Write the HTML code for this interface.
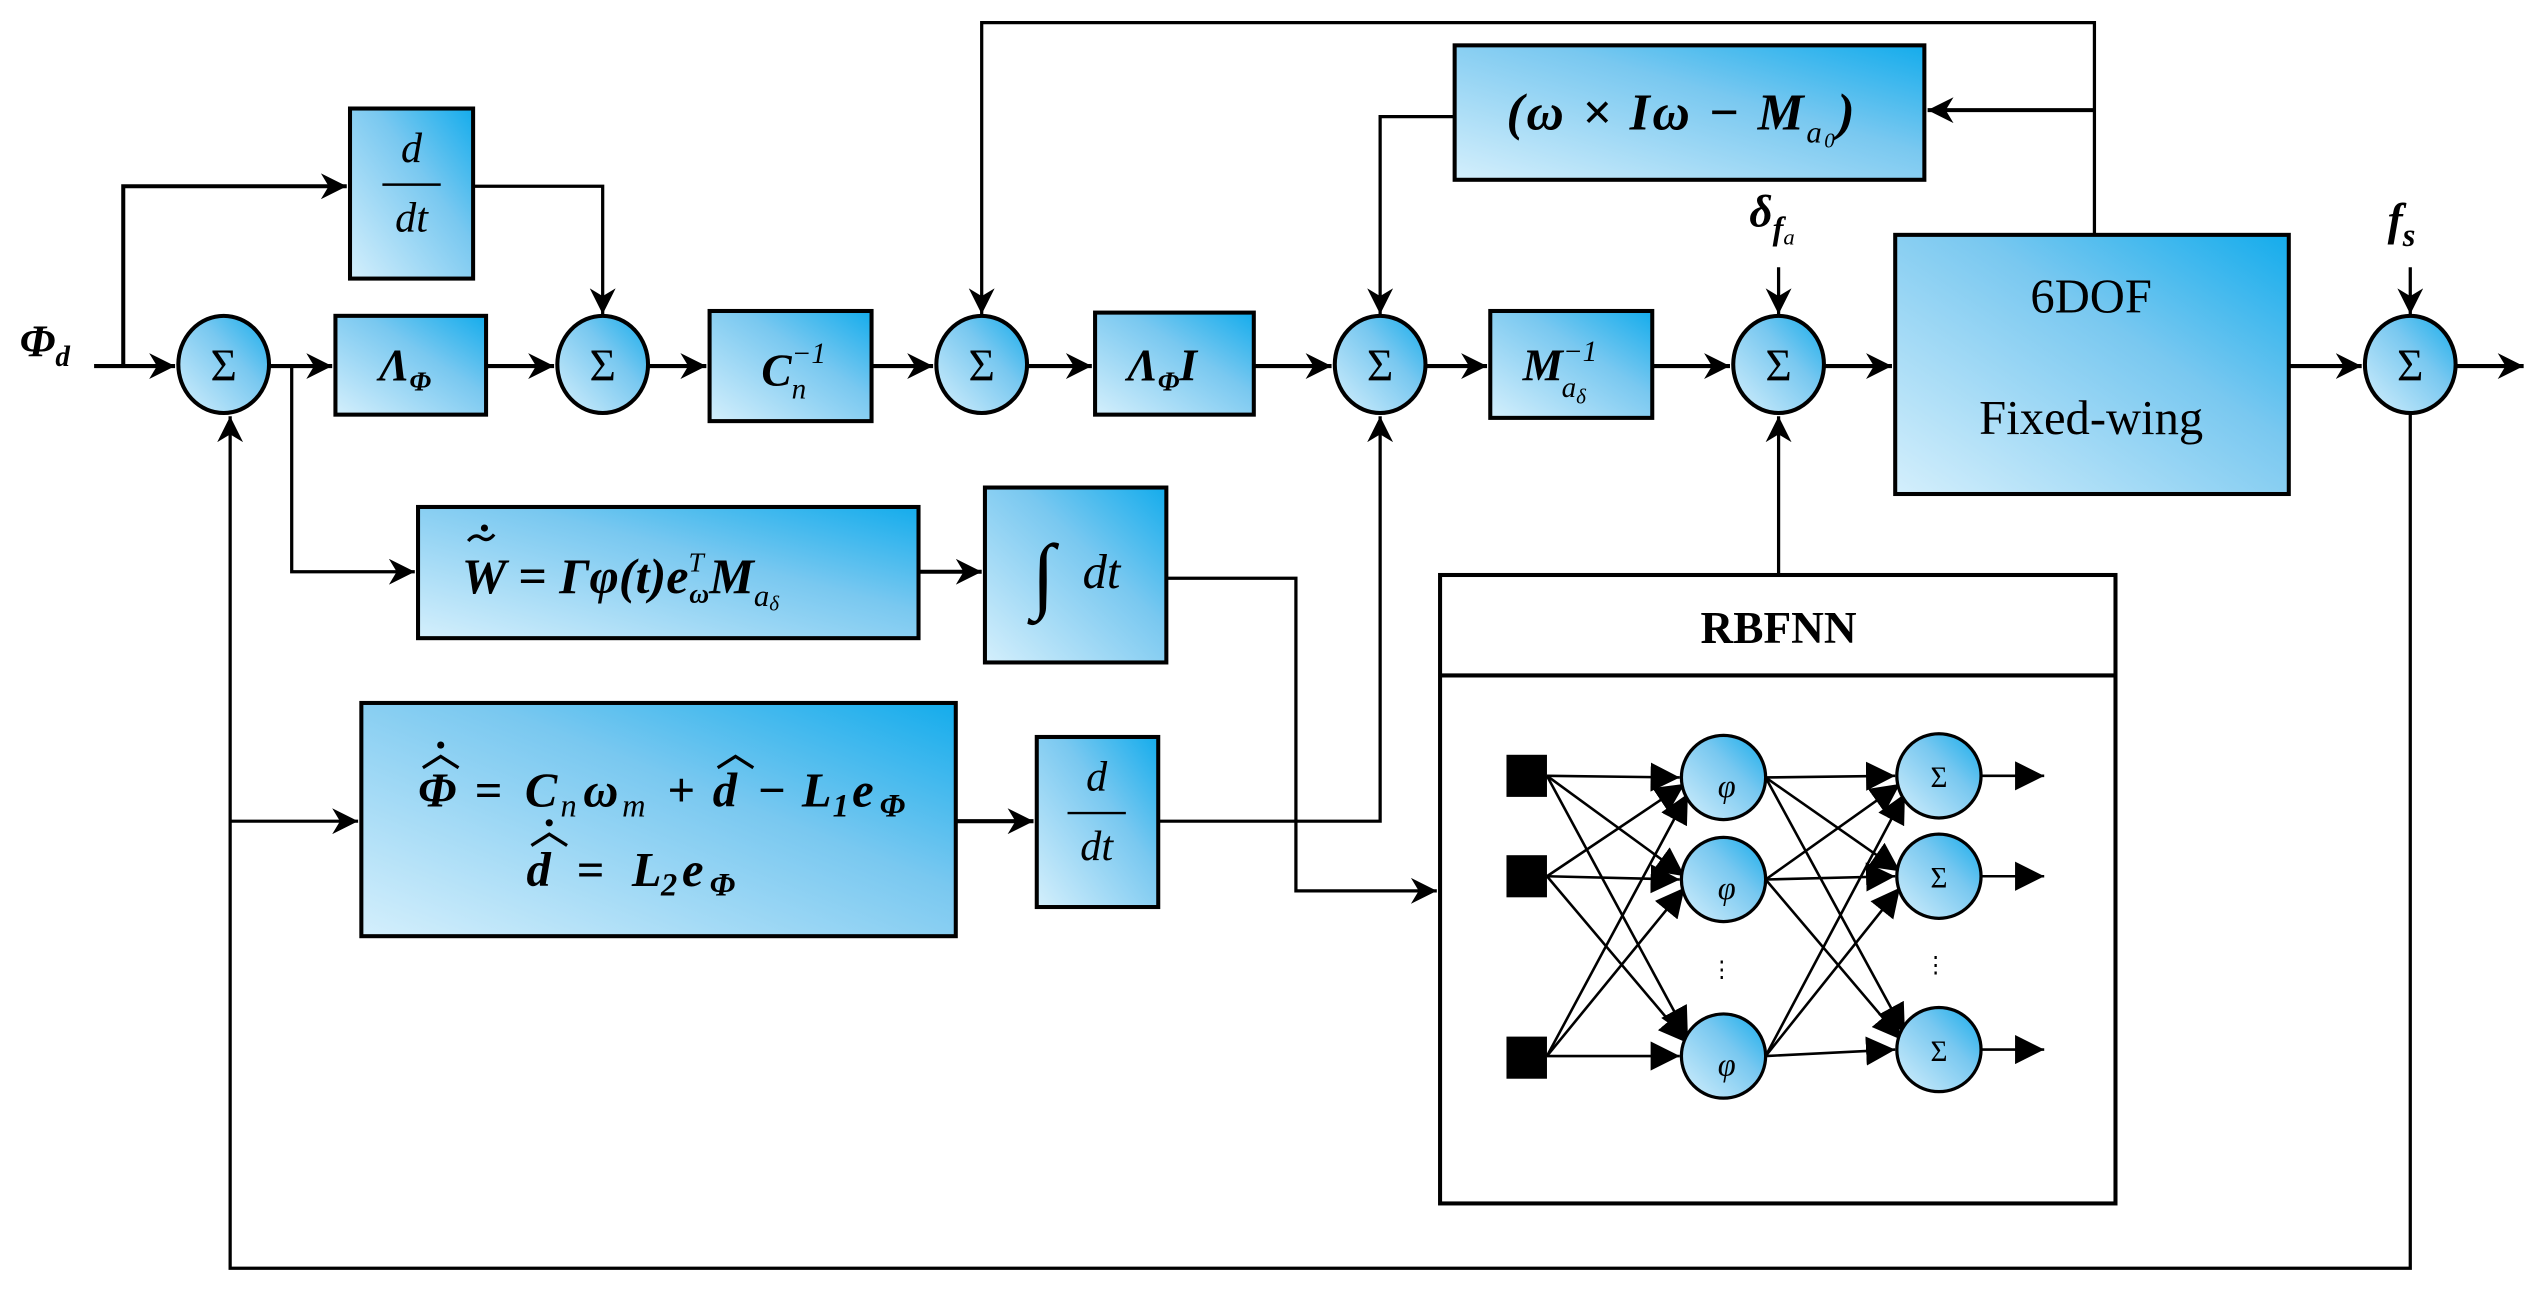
<!DOCTYPE html>
<html><head><meta charset="utf-8"><style>html,body{margin:0;padding:0;background:#fff}svg{display:block}</style></head>
<body>
<svg width="2540" height="1299" viewBox="0 0 1568 802" xmlns="http://www.w3.org/2000/svg" font-family="'Liberation Serif', serif">
<defs>
<linearGradient id="g" x1="0" y1="1" x2="1" y2="0">
<stop offset="0" stop-color="#d4effc"/><stop offset="0.6" stop-color="#79c8f0"/><stop offset="1" stop-color="#14acec"/></linearGradient>
<marker id="b" viewBox="0 0 10 10" refX="10" refY="5" markerWidth="16" markerHeight="16" orient="auto" markerUnits="userSpaceOnUse"><path d="M0,0 L10,5 L0,10 L3,5 z" fill="#000"/></marker>
<marker id="c" viewBox="0 0 10 10" refX="10" refY="5" markerWidth="18" markerHeight="18" orient="auto" markerUnits="userSpaceOnUse"><path d="M0,0 L10,5 L0,10 z" fill="#000"/></marker>
</defs>
<g fill="none" stroke="#000" stroke-width="2.5">
<path d="M58,226 H108" marker-end="url(#b)"/>
<path d="M166,226 H205" marker-end="url(#b)"/>
<path d="M300,226 H342" marker-end="url(#b)"/>
<path d="M400,226 H436" marker-end="url(#b)"/>
<path d="M538,226 H576" marker-end="url(#b)"/>
<path d="M634,226 H674" marker-end="url(#b)"/>
<path d="M774,226 H822" marker-end="url(#b)"/>
<path d="M880,226 H918" marker-end="url(#b)"/>
<path d="M1020,226 H1068" marker-end="url(#b)"/>
<path d="M1126,226 H1168" marker-end="url(#b)"/>
<path d="M1413,226 H1458" marker-end="url(#b)"/>
<path d="M1516,226 H1558" marker-end="url(#b)"/>
<path d="M76,226 V115 H214" marker-end="url(#b)"/>
<path d="M292,115 H372 V194" stroke-width="2" marker-end="url(#b)"/>
<path d="M1293,145 V14 H606 V194" stroke-width="2" marker-end="url(#b)"/>
<path d="M1293,68 H1190" stroke-width="2.5" marker-end="url(#b)"/>
<path d="M898,72 H852 V194" stroke-width="2" marker-end="url(#b)"/>
<path d="M1098,165 V194" stroke-width="2" marker-end="url(#b)"/>
<path d="M1488,165 V194" stroke-width="2" marker-end="url(#b)"/>
<path d="M1488,256 V783 H142 V257" stroke-width="2" marker-end="url(#b)"/>
<path d="M142,507 H221" stroke-width="2" marker-end="url(#b)"/>
<path d="M180,226 V353 H256" stroke-width="2" marker-end="url(#b)"/>
<path d="M567,353 H606" marker-end="url(#b)"/>
<path d="M720,357 H800 V550 H887" stroke-width="2" marker-end="url(#b)"/>
<path d="M590,507 H638" marker-end="url(#b)"/>
<path d="M715,507 H852 V257" stroke-width="2" marker-end="url(#b)"/>
<path d="M1098,355 V257" stroke-width="2" marker-end="url(#b)"/>
</g>
<g fill="url(#g)" stroke="#000" stroke-width="2.5">
<rect x="216" y="67" width="76" height="105"/>
<rect x="207" y="195" width="93" height="61"/>
<rect x="438" y="192" width="100" height="68"/>
<rect x="676" y="193" width="98" height="63"/>
<rect x="898" y="28" width="290" height="83"/>
<rect x="920" y="192" width="100" height="66"/>
<rect x="1170" y="145" width="243" height="160"/>
<rect x="258" y="313" width="309" height="81"/>
<rect x="608" y="301" width="112" height="108"/>
<rect x="223" y="434" width="367" height="144"/>
<rect x="640" y="455" width="75" height="105"/>
<ellipse cx="138" cy="225" rx="28" ry="30"/>
<ellipse cx="372" cy="225" rx="28" ry="30"/>
<ellipse cx="606" cy="225" rx="28" ry="30"/>
<ellipse cx="852" cy="225" rx="28" ry="30"/>
<ellipse cx="1098" cy="225" rx="28" ry="30"/>
<ellipse cx="1488" cy="225" rx="28" ry="30"/>
</g>
<rect x="889" y="355" width="417" height="388" fill="#fff" stroke="#000" stroke-width="2.5"/>
<line x1="889" y1="417" x2="1306" y2="417" stroke="#000" stroke-width="2.5"/>
<g stroke="#000" stroke-width="1.6" fill="none">
<path d="M955,479 L1037,480" marker-end="url(#c)"/>
<path d="M955,479 L1040,541" marker-end="url(#c)"/>
<path d="M955,479 L1042,640" marker-end="url(#c)"/>
<path d="M955,541 L1040,484" marker-end="url(#c)"/>
<path d="M955,541 L1037,543" marker-end="url(#c)"/>
<path d="M955,541 L1042,644" marker-end="url(#c)"/>
<path d="M955,652 L1042,490" marker-end="url(#c)"/>
<path d="M955,652 L1040,548" marker-end="url(#c)"/>
<path d="M955,652 L1037,652" marker-end="url(#c)"/>
<path d="M1090,480 L1170,479" marker-end="url(#c)"/>
<path d="M1090,480 L1173,538" marker-end="url(#c)"/>
<path d="M1090,480 L1176,638" marker-end="url(#c)"/>
<path d="M1090,543 L1173,484" marker-end="url(#c)"/>
<path d="M1090,543 L1170,541" marker-end="url(#c)"/>
<path d="M1090,543 L1174,642" marker-end="url(#c)"/>
<path d="M1090,652 L1176,490" marker-end="url(#c)"/>
<path d="M1090,652 L1173,548" marker-end="url(#c)"/>
<path d="M1090,652 L1170,648" marker-end="url(#c)"/>
<path d="M1223,479 H1262" marker-end="url(#c)"/>
<path d="M1223,541 H1262" marker-end="url(#c)"/>
<path d="M1223,648 H1262" marker-end="url(#c)"/>
</g>
<g fill="#000"><rect x="930" y="466" width="25" height="26"/><rect x="930" y="528" width="25" height="26"/><rect x="930" y="640" width="25" height="26"/></g>
<g fill="url(#g)" stroke="#000" stroke-width="2">
<circle cx="1064" cy="480" r="26"/><circle cx="1064" cy="543" r="26"/><circle cx="1064" cy="652" r="26"/>
<circle cx="1197" cy="479" r="26"/><circle cx="1197" cy="541" r="26"/><circle cx="1197" cy="648" r="26"/>
</g>
<g font-size="20" font-style="italic" text-anchor="middle">
<text x="1066" y="492">φ</text><text x="1066" y="555">φ</text><text x="1066" y="664">φ</text>
</g>
<g font-size="18" text-anchor="middle">
<text x="1197" y="486">Σ</text><text x="1197" y="548">Σ</text><text x="1197" y="655">Σ</text>
<text x="1063" y="603" font-size="14">⋮</text><text x="1195" y="600" font-size="14">⋮</text>
</g>
<text x="1098" y="397" font-size="28" font-weight="bold" text-anchor="middle">RBFNN</text>
<g font-size="28" text-anchor="middle">
<text x="138" y="235">Σ</text><text x="372" y="235">Σ</text><text x="606" y="235">Σ</text>
<text x="852" y="235">Σ</text><text x="1098" y="235">Σ</text><text x="1488" y="235">Σ</text>
<text x="1291" y="193" font-size="30">6DOF</text>
<text x="1291" y="268" font-size="30">Fixed-wing</text>
</g>
<g font-style="italic" font-weight="bold" font-size="28">
<text x="12" y="220">Φ<tspan font-size="18" dy="6">d</tspan></text>
<text x="234" y="235">Λ<tspan font-size="17" dy="6">Φ</tspan></text>
<text x="470" y="238">C<tspan font-size="18" dy="8" font-weight="normal">n</tspan><tspan font-size="18" dy="-22" dx="-9" font-weight="normal">−1</tspan></text>
<text x="696" y="235">Λ<tspan font-size="17" dy="6">Φ</tspan><tspan dy="-6">I</tspan></text>
<text x="940" y="235">M<tspan font-size="18" dy="-12" font-weight="normal">−1</tspan><tspan font-size="18" dy="22" dx="-22" font-weight="normal">a<tspan font-size="13" dy="4">δ</tspan></tspan></text>
<text x="930" y="80" font-size="32" textLength="215">(ω × Iω − M<tspan font-size="19" dy="8" font-weight="normal">a<tspan font-size="13" dy="3">0</tspan></tspan><tspan dy="-11">)</tspan></text>
<text x="1080" y="140">δ<tspan font-size="20" dy="8">f<tspan font-size="14" dy="3" font-weight="normal">a</tspan></tspan></text>
<text x="1474" y="145">f<tspan font-size="20" dy="7">s</tspan></text>
<text x="285" y="366" font-size="31">W = Γφ(t)e<tspan font-size="17" dy="-13" font-weight="normal">T</tspan><tspan font-size="17" dy="19" dx="-9">ω</tspan><tspan dy="-6">M</tspan><tspan font-size="19" dy="8" font-weight="normal">a<tspan font-size="13" dy="3">δ</tspan></tspan></text>
</g>
<g font-style="italic" font-weight="bold" font-size="30">
<text x="258" y="498">Φ</text>
<text x="293" y="498" font-style="normal">=</text>
<text x="324" y="498">C</text>
<text x="346" y="504" font-size="20" font-weight="normal">n</text>
<text x="360" y="498">ω</text>
<text x="384" y="504" font-size="20" font-weight="normal">m</text>
<text x="412" y="498" font-style="normal">+</text>
<text x="440" y="498">d</text>
<text x="468" y="498" font-style="normal">−</text>
<text x="495" y="498">L</text>
<text x="514" y="504" font-size="20">1</text>
<text x="526" y="498">e</text>
<text x="543" y="504" font-size="20">Φ</text>
<text x="325" y="547">d</text>
<text x="356" y="547" font-style="normal">=</text>
<text x="390" y="547">L</text>
<text x="408" y="553" font-size="20">2</text>
<text x="421" y="547">e</text>
<text x="438" y="553" font-size="20">Φ</text>
</g>
<g fill="none" stroke="#000" stroke-width="2">
<path d="M261,474 L272,467 L283,474"/>
<path d="M443,474 L454,467 L465,474"/>
<path d="M328,522 L339,515 L350,522"/>
<path d="M289,334 q4,-5 8,-2 q4,3 8,-2"/>
</g>
<g fill="#000">
<circle cx="272" cy="460" r="2.2"/>
<circle cx="339" cy="508" r="2.2"/>
<circle cx="299" cy="326" r="2.2"/>
</g>
<g font-style="italic" font-size="26" text-anchor="middle">
<text x="254" y="100">d</text><line x1="236" y1="114" x2="272" y2="114" stroke="#000" stroke-width="1.5"/><text x="254" y="143">dt</text>
<text x="677" y="488">d</text><line x1="659" y1="502" x2="695" y2="502" stroke="#000" stroke-width="1.5"/><text x="677" y="531">dt</text>
<text x="644" y="372" font-size="52" font-style="normal">∫</text><text x="680" y="363" font-size="30">dt</text>
</g>
</svg>
</body></html>
